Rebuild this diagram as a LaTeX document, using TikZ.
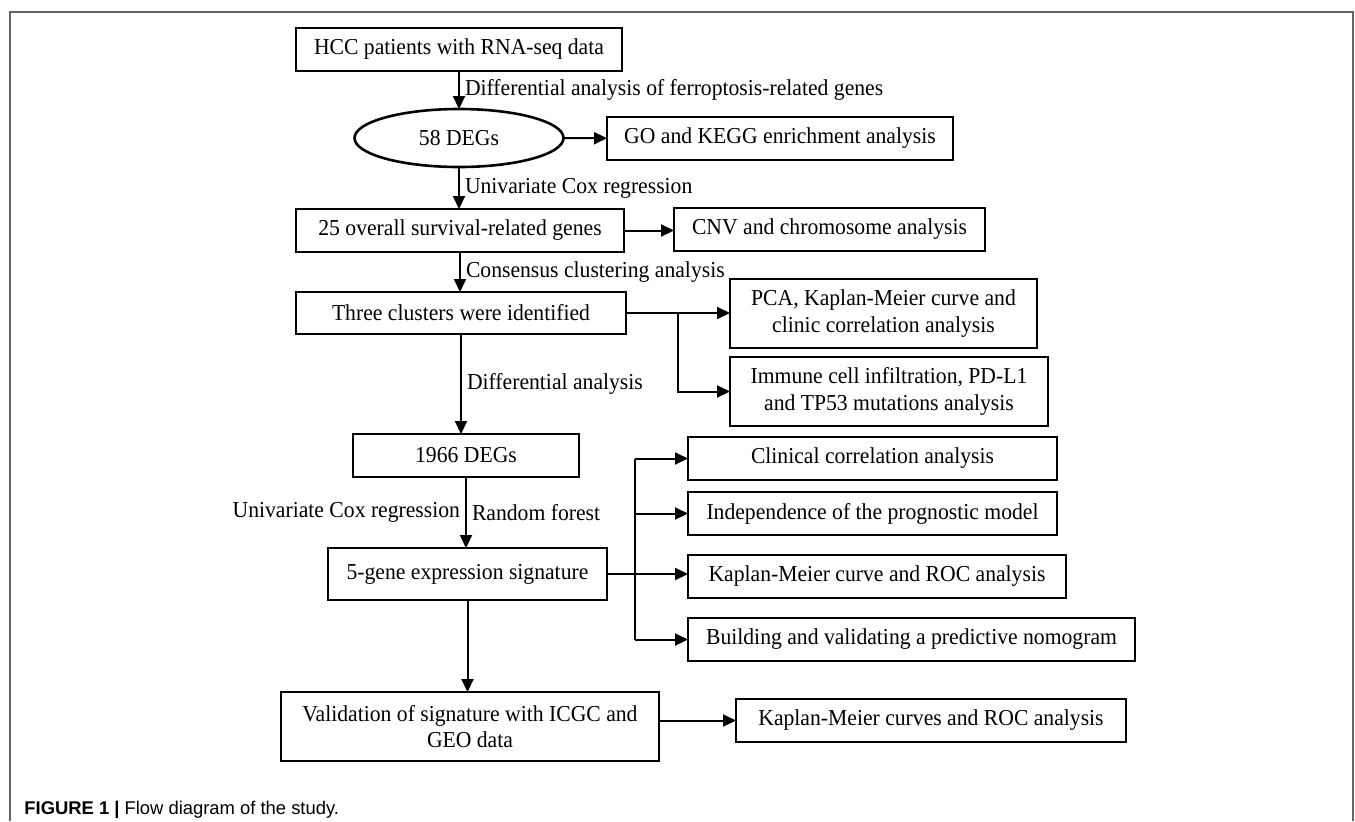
\documentclass[tikz,border=0pt]{standalone}
\usepackage{fontspec}
\setmainfont{Liberation Serif}[FakeStretch=0.95]
\newfontfamily\capfont{Liberation Sans}
\usepackage{tikz}
\usetikzlibrary{arrows.meta,calc,positioning,shapes}
\newdimen\boxh
\newdimen\twoh
\boxh=21.5pt
\twoh=34.5pt
\tikzstyle{procbox}=[
  draw=black,
  font={\fontsize{11.4}{13.2}\selectfont},
  inner sep=0pt,
  line width=1.3pt,
  minimum height=\boxh,
  outer sep=0pt,
  rectangle,
  align=center,
]
\tikzstyle{setell}=[
  procbox,
  ellipse,
  minimum height=29pt,
]
\tikzstyle{flow}=[
  draw=black,
  line width=1pt,
]
\tikzstyle{flowlabel}=[
  font={\fontsize{11.4}{13.2}\selectfont},
  inner sep=2.5pt,
]
\tikzset{
  >={Triangle[length=6.5pt,width=6pt]},
}

\begin{document}
\begin{tikzpicture}[x=0.5pt,y=-0.5pt]
  \useasboundingbox (0,0) rectangle (1355,821);
  \draw [black!60, line width=0.6pt] (10,821) -- (10,12) -- (1353,12) -- (1353,821);
  %%
  \node (hccdata) [procbox, minimum width=163pt] at (459,49.5) {HCC patients with RNA-seq data};
  \node (degs) [setell, minimum width=104.5pt] at (459,138) {58 DEGs};
  \node (goenrich) [procbox, minimum width=173pt] at (780,138.5) {GO and KEGG enrichment analysis};
  \node (survgenes) [procbox, minimum width=164pt] at (460,230.5) {25 overall survival-related genes};
  \node (cnv) [procbox, minimum width=155.5pt] at (829.5,229.5) {CNV and chromosome analysis};
  %%
  \node (clusters) [procbox, minimum width=165pt, minimum height=21pt] at (461,313) {Three clusters were identified};
  \node (pca) [procbox, minimum width=153.5pt, minimum height=\twoh] at (883.5,313.5) {PCA, Kaplan-Meier curve and\\clinic correlation analysis};
  \node (immune) [procbox, minimum width=159pt, minimum height=\twoh] at (889,391.5) {Immune cell infiltration, PD-L1\\and TP53 mutations analysis};
  %%
  \node (degsb) [procbox, minimum width=113pt] at (466,455.5) {1966 DEGs};
  \node (clinical) [procbox, minimum width=184.5pt] at (872.5,458.5) {Clinical correlation analysis};
  \node (indep) [procbox, minimum width=184.5pt] at (872.5,513.5) {Independence of the prognostic model};
  \node (signature) [procbox, minimum width=139.5pt, minimum height=26pt] at (467.5,574) {5-gene expression signature};
  \node (kmroc) [procbox, minimum width=189pt] at (877,576.5) {Kaplan-Meier curve and ROC analysis};
  \node (nomogram) [procbox, minimum width=223.5pt] at (911.5,639.5) {Building and validating a predictive nomogram};
  %%
  \node (validation) [procbox, minimum width=189pt, minimum height=\twoh] at (470,726.5) {Validation of signature with ICGC and\\GEO data};
  \node (kmvalid) [procbox, minimum width=195pt] at (931,720.5) {Kaplan-Meier curves and ROC analysis};
  %%
  \draw [->, flow] (hccdata) -- node [flowlabel, right] {Differential analysis of ferroptosis-related genes} (degs);
  \draw [->, flow] (degs) -- (goenrich);
  \draw [->, flow] (degs.south) -- node [flowlabel, right] {Univariate Cox regression} (degs.south |- survgenes.north);
  \draw [->, flow] (survgenes.east) -- (survgenes.east -| cnv.west);
  \draw [->, flow] (survgenes.south) -- node [flowlabel, right] {Consensus clustering analysis} (survgenes.south |- clusters.north);
  %%
  \draw [->, flow] (clusters.east) -- (clusters.east -| pca.west);
  \coordinate (clsplit) at ($(clusters.east)!0.5!(clusters.east -| pca.west)$);
  \draw [->, flow] (clsplit) |- (immune.west);
  \draw [->, flow] (clusters.south) -- node [flowlabel, right] {Differential analysis} (clusters.south |- degsb.north);
  %%
  \draw [->, flow] (degsb.south) -- node [flowlabel, left] {Univariate Cox regression}
      node [flowlabel, right] {Random forest} (degsb.south |- signature.north);
  \draw [->, flow] (signature.east) -- (signature.east -| kmroc.west);
  \coordinate (sigsplit) at ($(signature.east)+(28,0)$);
  \draw [flow, line width=0.6pt] (sigsplit |- clinical.west) -- (sigsplit |- nomogram.west);
  \draw [->, flow] (sigsplit |- clinical.west) -- (clinical.west);
  \draw [->, flow] (sigsplit |- indep.west) -- (indep.west);
  \draw [->, flow] (sigsplit |- nomogram.west) -- (nomogram.west);
  %%
  \draw [->, flow] (signature.south) -- (signature.south |- validation.north);
  \draw [->, flow] (validation.east |- kmvalid.west) -- (kmvalid.west);
  %%
  \node (caption) [anchor=base west, inner sep=0pt, font={\capfont\fontsize{9.2}{11}\selectfont}] at (24,814)
      {\textbf{FIGURE 1} \textbf{|} Flow diagram of the study.};
\end{tikzpicture}
\end{document}
